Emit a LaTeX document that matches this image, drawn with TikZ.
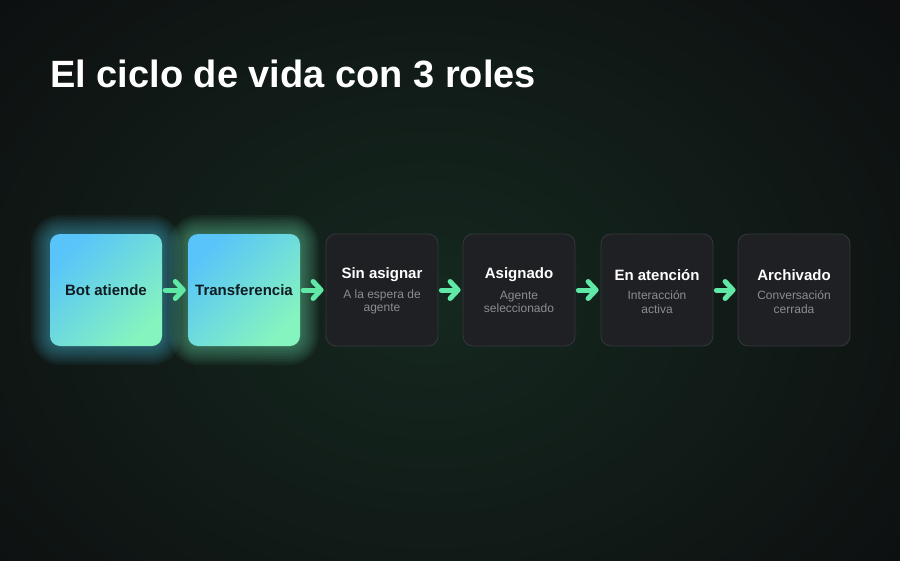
\documentclass[tikz,border=0pt]{standalone}
\usepackage{fontspec}
\setmainfont{Liberation Sans}
\usetikzlibrary{arrows.meta}
\definecolor{bg}{HTML}{0D0F10}
\definecolor{glowbg}{HTML}{15281F}
\definecolor{darkbox}{HTML}{1F2023}
\definecolor{darkline}{HTML}{35373B}
\definecolor{subgray}{HTML}{8A8D91}
\definecolor{arrowgreen}{HTML}{5FE8A6}
\definecolor{cblue}{HTML}{58C4FA}
\definecolor{cgreen}{HTML}{86F4BE}
\definecolor{glowA}{HTML}{4FC8E8}
\definecolor{glowB}{HTML}{6FE6B4}
\definecolor{darktext}{HTML}{0F1B22}
\begin{document}
\begin{tikzpicture}[x=1pt,y=-1pt,
  boxbase/.style={minimum width=112pt,minimum height=112pt,rounded corners=10pt,inner sep=0pt,align=center},
  brightbox/.style={boxbase,top color=cblue,bottom color=cgreen,shading angle=45,text=darktext,font=\bfseries\fontsize{15}{18}\selectfont},
  darkstate/.style={boxbase,fill=darkbox,draw=darkline,line width=0.8pt},
  flow/.style={draw=arrowgreen,line width=5pt,line cap=round,-{Straight Barb[length=8pt,width=17pt,line cap=round,line join=round]}},
  ttl/.style={text=white,font=\bfseries\fontsize{15}{18}\selectfont},
  sub/.style={text=subgray,font=\fontsize{12}{13.5}\selectfont,align=center}
]
\useasboundingbox (0,0) rectangle (900,560);
\clip (0,0) rectangle (900,560);
\fill[bg] (0,0) rectangle (900,560);
\shade[inner color=glowbg,outer color=bg] (430,300) ellipse (600pt and 460pt);

\node[anchor=base west,inner sep=0pt,text=white,font=\bfseries\fontsize{38}{44}\selectfont] (title) at (50,87) {El ciclo de vida con 3 roles};

% glows
\foreach \cx/\gc in {106/glowA,244/glowB}{
  \foreach \g in {1,3,...,19}{
    \fill[\gc,opacity=0.05,rounded corners=10pt+\g pt] (\cx-56-\g,234-\g) rectangle (\cx+56+\g,346+\g);
  }
}

\node[brightbox] (b1) at (106,290) {Bot atiende};
\node[brightbox] (b2) at (244,290) {Transferencia};
\node[darkstate] (b3) at (382,290) {};
\node[darkstate] (b4) at (519,290) {};
\node[darkstate] (b5) at (657,290) {};
\node[darkstate] (b6) at (794,290) {};

\node[ttl] (t3) at (382,275) {Sin asignar};
\node[sub] (s3) at (382,302) {A la espera de\\agente};
\node[ttl] (t4) at (519,275) {Asignado};
\node[sub] (s4) at (519,302) {Agente\\seleccionado};
\node[ttl] (t5) at (657,275) {En atención};
\node[sub] (s5) at (657,302) {Interacción\\activa};
\node[ttl] (t6) at (794,275) {Archivado};
\node[sub] (s6) at (794,302) {Conversación\\cerrada};

\draw[flow] ([xshift=3pt]b1.east) -- ([xshift=-2pt]b2.west);
\draw[flow] ([xshift=3pt]b2.east) -- ([xshift=-2pt]b3.west);
\draw[flow] ([xshift=3pt]b3.east) -- ([xshift=-2pt]b4.west);
\draw[flow] ([xshift=3pt]b4.east) -- ([xshift=-2pt]b5.west);
\draw[flow] ([xshift=3pt]b5.east) -- ([xshift=-2pt]b6.west);
\end{tikzpicture}
\end{document}
